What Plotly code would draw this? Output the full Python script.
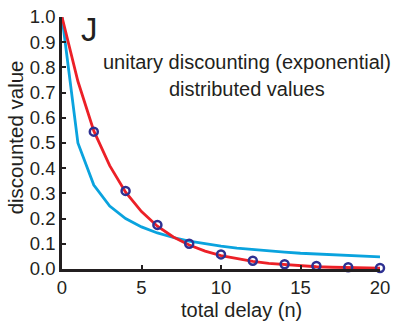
import plotly.graph_objects as go

# delay steps
delay = list(range(0, 21))

# exponential (unitary) discounting curve
exp_values = [1.0, 0.745, 0.548, 0.41, 0.305, 0.228, 0.17, 0.127, 0.095, 0.071,
              0.053, 0.04, 0.03, 0.022, 0.017, 0.012, 0.009, 0.007, 0.005, 0.004, 0.003]

# hyperbolic curve
hyp_values = [1.0, 0.5, 0.333, 0.25, 0.2, 0.167, 0.143, 0.125, 0.111, 0.1,
              0.091, 0.083, 0.077, 0.071, 0.067, 0.0625, 0.059, 0.056, 0.053, 0.05, 0.048]

# distributed values sampled at even delays
dist_delay = [2, 4, 6, 8, 10, 12, 14, 16, 18, 20]
dist_values = [0.545, 0.31, 0.175, 0.10, 0.058, 0.033, 0.019, 0.012, 0.007, 0.004]

y_ticks = [0.0, 0.1, 0.2, 0.3, 0.4, 0.5, 0.6, 0.7, 0.8, 0.9, 1.0]
x_ticks = [0, 5, 10, 15, 20]

font = "Liberation Sans, Arial, sans-serif"
ink = "#231F20"

fig = go.Figure()
fig.add_trace(go.Scatter(x=delay, y=hyp_values, mode="lines",
                         line=dict(color="#0AA3DE", width=2.8), showlegend=False))
fig.add_trace(go.Scatter(x=delay, y=exp_values, mode="lines",
                         line=dict(color="#EC2027", width=2.8), showlegend=False))
fig.add_trace(go.Scatter(x=dist_delay, y=dist_values, mode="markers",
                         marker=dict(symbol="circle-open", size=8, color="#2E3192",
                                     line=dict(width=2.5, color="#2E3192")),
                         showlegend=False, cliponaxis=False))

fig.update_layout(
    width=397, height=322,
    margin=dict(l=62, r=17, t=17, b=53),
    paper_bgcolor="white", plot_bgcolor="white",
    font=dict(family=font, size=18.5, color=ink),
    xaxis=dict(range=[0, 20], tickvals=x_ticks, ticks="inside", ticklen=4, tickwidth=2,
               tickcolor=ink, showline=True, linecolor=ink, linewidth=2.5,
               showgrid=False, zeroline=False, tickfont=dict(size=18.5),
               automargin=False),
    yaxis=dict(range=[0, 1.0], tickvals=y_ticks, tickformat=".1f", ticks="inside",
               ticklen=4, tickwidth=2, tickcolor=ink, showline=True,
               linecolor=ink, linewidth=2.5, showgrid=False, zeroline=False,
               tickfont=dict(size=18.5), automargin=False),
    annotations=[
        # axis titles
        dict(text="total delay (n)", x=0.563, y=-0.163, xref="paper", yref="paper",
             xanchor="center", yanchor="middle", showarrow=False,
             font=dict(size=20, color=ink)),
        dict(text="discounted value", x=-0.145, y=0.522, xref="paper", yref="paper",
             xanchor="center", yanchor="middle", textangle=-90, showarrow=False,
             font=dict(size=20.5, color=ink)),
        # panel letter and labels
        dict(text="J", x=1.7, y=0.952, xref="x", yref="y", showarrow=False,
             font=dict(size=33, color=ink)),
        dict(text="unitary discounting (exponential)", x=11.64, y=0.82, xref="x", yref="y",
             showarrow=False, font=dict(size=20, color=ink)),
        dict(text="distributed values", x=11.64, y=0.713, xref="x", yref="y",
             showarrow=False, font=dict(size=20, color=ink)),
    ],
)

fig.write_html("out.html")
